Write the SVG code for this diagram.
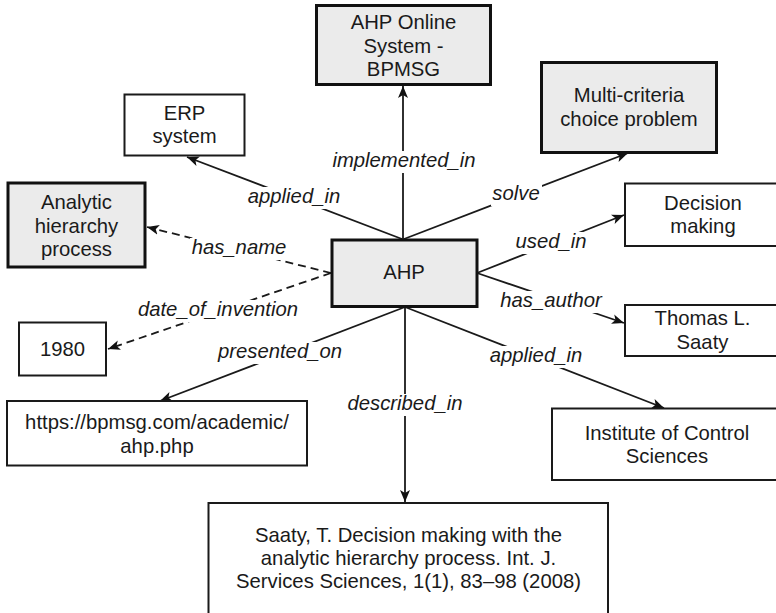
<svg xmlns="http://www.w3.org/2000/svg" width="776" height="613" viewBox="0 0 776 613">
<defs>
<style>
.n{fill:#fff;stroke:#1a1a1a;stroke-width:2}
.g{fill:#ebebeb;stroke:#111;stroke-width:3}
.t{font-family:"Liberation Sans",Arial,sans-serif;font-size:20.3px;fill:#1a1a1a;text-anchor:middle}
.e{fill:none;stroke:#1a1a1a;stroke-width:1.8;marker-end:url(#ah)}
.d{stroke-dasharray:8 5}
.b{fill:#fff}
.l{font-family:"Liberation Sans",Arial,sans-serif;font-size:20.3px;font-style:italic;fill:#1a1a1a;text-anchor:middle}
</style>
<marker id="ah" markerUnits="userSpaceOnUse" markerWidth="14" markerHeight="12" refX="12" refY="5" orient="auto" viewBox="0 0 14 10">
<path d="M0,0 L12,5 L0,10 L3,5 z" fill="#111"/>
</marker>
</defs>
<rect width="776" height="613" fill="#fff"/>
<g id="connectors">
<line class="e" x1="403" y1="239" x2="403" y2="86"/>
<line class="e" x1="402" y1="239" x2="187" y2="157"/>
<line class="e" x1="404" y1="239" x2="628" y2="153"/>
<line class="e d" x1="331" y1="273" x2="147" y2="227"/>
<line class="e d" x1="331" y1="273" x2="108" y2="349"/>
<line class="e" x1="477" y1="273" x2="624" y2="215"/>
<line class="e" x1="477" y1="273" x2="624" y2="323"/>
<line class="e" x1="405" y1="307" x2="160" y2="401"/>
<line class="e" x1="405" y1="307" x2="405" y2="502"/>
<line class="e" x1="405" y1="307" x2="664" y2="408"/>
<rect class="b" x="331" y="151" width="147" height="22"/>
<rect class="b" x="246" y="187" width="96" height="22"/>
<rect class="b" x="491" y="184" width="51" height="22"/>
<rect class="b" x="190" y="238" width="98" height="22"/>
<rect class="b" x="137" y="300" width="163" height="22"/>
<rect class="b" x="514" y="232" width="74" height="22"/>
<rect class="b" x="499" y="291" width="105" height="22"/>
<rect class="b" x="217" y="342" width="127" height="22"/>
<rect class="b" x="347" y="394" width="118" height="22"/>
<rect class="b" x="489" y="346" width="95" height="22"/>
<text class="l" x="404" y="167">implemented_in</text>
<text class="l" x="294" y="203">applied_in</text>
<text class="l" x="516" y="200">solve</text>
<text class="l" x="239" y="254">has_name</text>
<text class="l" x="218" y="316">date_of_invention</text>
<text class="l" x="551" y="248">used_in</text>
<text class="l" x="551" y="307">has_author</text>
<text class="l" x="280" y="358">presented_on</text>
<text class="l" x="405" y="410">described_in</text>
<text class="l" x="536" y="362">applied_in</text>
</g>
<g id="online">
<rect class="g" x="316.5" y="5.5" width="174" height="79"/>
<text class="t" x="403.5" y="29">AHP Online</text>
<text class="t" x="403.5" y="52.5">System -</text>
<text class="t" x="403.5" y="76">BPMSG</text>
</g>
<g id="erp">
<rect class="n" x="124.5" y="94.5" width="120" height="61"/>
<text class="t" x="184.5" y="120">ERP</text>
<text class="t" x="184.5" y="143">system</text>
</g>
<g id="analytic">
<rect class="g" x="8" y="183" width="137" height="84"/>
<text class="t" x="76.5" y="209">Analytic</text>
<text class="t" x="76.5" y="232.5">hierarchy</text>
<text class="t" x="76.5" y="256">process</text>
</g>
<g id="ahp">
<rect class="g" x="332" y="240" width="145" height="66.5"/>
<text class="t" x="404" y="279">AHP</text>
</g>
<g id="multi">
<rect class="g" x="541.5" y="62.5" width="175" height="90"/>
<text class="t" x="629" y="102">Multi-criteria</text>
<text class="t" x="629" y="125.5">choice problem</text>
</g>
<g id="decision">
<rect class="n" x="625" y="183.5" width="170" height="62.5"/>
<text class="t" x="703" y="209.5">Decision</text>
<text class="t" x="703" y="233">making</text>
</g>
<g id="saaty">
<rect class="n" x="625" y="305" width="170" height="51"/>
<text class="t" x="702.5" y="325">Thomas L.</text>
<text class="t" x="702.5" y="348.5">Saaty</text>
</g>
<g id="institute">
<rect class="n" x="552" y="408.5" width="240" height="71.5"/>
<text class="t" x="667" y="439.5">Institute of Control</text>
<text class="t" x="667" y="463">Sciences</text>
</g>
<g id="year">
<rect class="n" x="19" y="322.5" width="87" height="53"/>
<text class="t" x="62.5" y="356">1980</text>
</g>
<g id="url">
<rect class="n" x="7" y="401" width="300" height="64.5"/>
<text class="t" x="157" y="428.5">https://bpmsg.com/academic/</text>
<text class="t" x="157" y="452.5">ahp.php</text>
</g>
<g id="reference">
<rect class="n" x="208.5" y="503" width="399.5" height="125"/>
<text class="t" x="408.5" y="541.5">Saaty, T. Decision making with the</text>
<text class="t" x="408.5" y="564.5">analytic hierarchy process. Int. J.</text>
<text class="t" x="408.5" y="587.5">Services Sciences, 1(1), 83–98 (2008)</text>
</g>
</svg>
